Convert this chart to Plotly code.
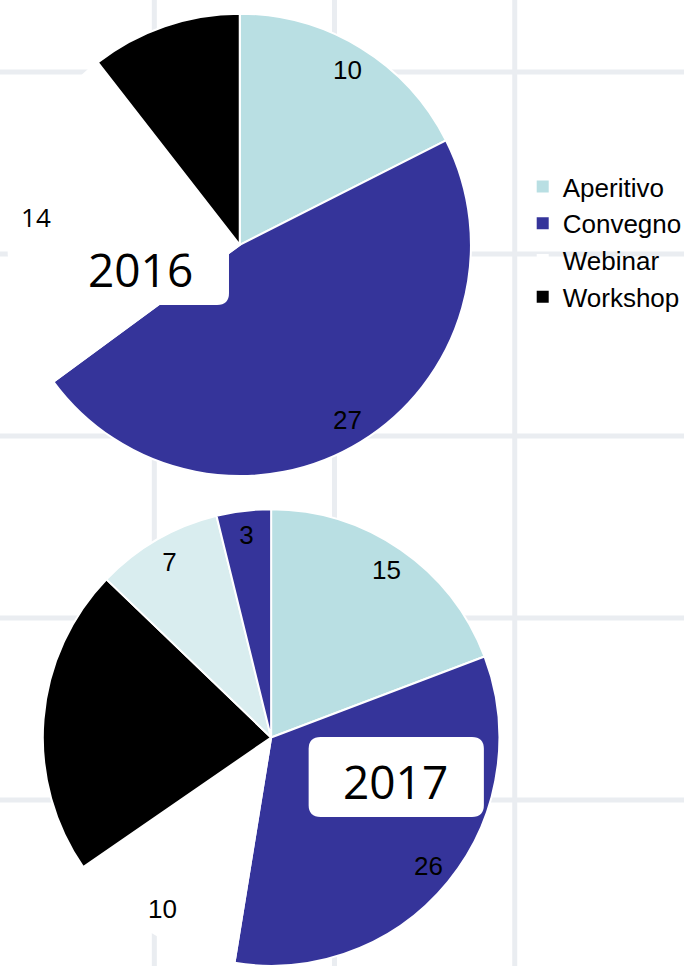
import plotly.graph_objects as go

W, H = 687, 966

# ---- data ----
labels_2016 = ["Aperitivo", "Convegno", "Webinar", "Workshop"]
values_2016 = [10, 27, 14, 6]
colors_2016 = ["#b9dfe3", "#35349a", "#ffffff", "#000000"]

labels_2017 = ["Aperitivo", "Convegno", "Webinar", "Workshop", "Altro 1", "Altro 2"]
values_2017 = [15, 26, 10, 17, 7, 3]
colors_2017 = ["#b9dfe3", "#35349a", "#ffffff", "#000000", "#d9edef", "#35349a"]

year_labels = ["2016", "2017"]

# ---- helpers (window pixel -> paper) ----
def px(x):
    return x / W

def py(y):
    return 1 - y / H

dom_2016 = dict(x=[px(8.6), px(473)], y=[py(477), py(12.7)])
dom_2017 = dict(x=[px(43), px(501.6)], y=[0, py(509)])

fig = go.Figure()

# legend carrier for 2016 (same geometry, hidden under the 2016 pie; no borders so the
# legend squares are drawn at full size)
fig.add_trace(go.Pie(
    labels=labels_2016, values=values_2016, sort=False, direction="clockwise", rotation=0,
    marker=dict(colors=colors_2016, line=dict(width=0)),
    textinfo="none", domain=dom_2016, showlegend=True, hoverinfo="skip",
))

def add_pie(labels, values, colors, domain, fams):
    # base pie (colours + separators)
    fig.add_trace(go.Pie(
        labels=labels, values=values, sort=False, direction="clockwise", rotation=0,
        marker=dict(colors=colors, line=dict(color="white", width=2)),
        textinfo="none", domain=domain, showlegend=False, hoverinfo="label+value",
    ))
    # transparent ring used only to place the value labels near the rim
    fig.add_trace(go.Pie(
        labels=labels, values=values, sort=False, direction="clockwise", rotation=0,
        hole=0.78,
        marker=dict(colors=["rgba(0,0,0,0)"] * len(values), line=dict(width=0)),
        textinfo="value", textposition="inside", insidetextorientation="horizontal",
        textfont=dict(family=fams, size=26, color="black"),
        domain=domain, showlegend=False, hoverinfo="skip",
    ))

add_pie(labels_2016, values_2016, colors_2016, dom_2016,
        ["Liberation Sans", "Liberation Sans", "Open Sans", "Liberation Sans"])
add_pie(labels_2017, values_2017, colors_2017, dom_2017, ["Liberation Sans"] * 6)

# ---- background grid ----
shapes = []
grid_col = "#eaedf1"
for gx in [155, 336, 517]:
    shapes.append(dict(type="line", xref="paper", yref="paper", x0=px(gx), x1=px(gx), y0=0, y1=1,
                       line=dict(color=grid_col, width=5), layer="below"))
for gy in [72, 254, 436, 618, 800]:
    shapes.append(dict(type="line", xref="paper", yref="paper", x0=0, x1=1, y0=py(gy), y1=py(gy),
                       line=dict(color=grid_col, width=5), layer="below"))

def rounded_box(x0, y0, x1, y1, r):
    pts = [
        f"M{px(x0 + r)},{py(y0)}",
        f"L{px(x1 - r)},{py(y0)}",
        f"Q{px(x1)},{py(y0)} {px(x1)},{py(y0 + r)}",
        f"L{px(x1)},{py(y1 - r)}",
        f"Q{px(x1)},{py(y1)} {px(x1 - r)},{py(y1)}",
        f"L{px(x0 + r)},{py(y1)}",
        f"Q{px(x0)},{py(y1)} {px(x0)},{py(y1 - r)}",
        f"L{px(x0)},{py(y0 + r)}",
        f"Q{px(x0)},{py(y0)} {px(x0 + r)},{py(y0)}",
        "Z",
    ]
    return dict(type="path", xref="paper", yref="paper", path=" ".join(pts),
                fillcolor="white", line=dict(width=0), layer="above")

shapes.append(rounded_box(54, 225, 230, 305, 12))
shapes.append(rounded_box(310, 737, 486, 817, 12))

annotations = [
    dict(text=year_labels[0], x=px(141), y=py(269), xref="paper", yref="paper",
         showarrow=False, xanchor="center", yanchor="middle",
         font=dict(family="Open Sans", size=46, color="black")),
    dict(text=year_labels[1], x=px(397.5), y=py(781), xref="paper", yref="paper",
         showarrow=False, xanchor="center", yanchor="middle",
         font=dict(family="Open Sans", size=46, color="black")),
]

fig.update_layout(
    width=W, height=H,
    margin=dict(l=0, r=0, t=0, b=0),
    paper_bgcolor="white", plot_bgcolor="white",
    shapes=shapes, annotations=annotations,
    legend=dict(x=px(525), y=py(163), xanchor="left", yanchor="top",
                font=dict(family="Liberation Sans", size=26, color="black"),
                bgcolor="rgba(0,0,0,0)", borderwidth=0),
)

# remove the browser's default 8px body margin so the figure fills the window exactly
fig.write_html("out.html", config={"displayModeBar": False},
               post_script="document.body.style.margin='0';")
